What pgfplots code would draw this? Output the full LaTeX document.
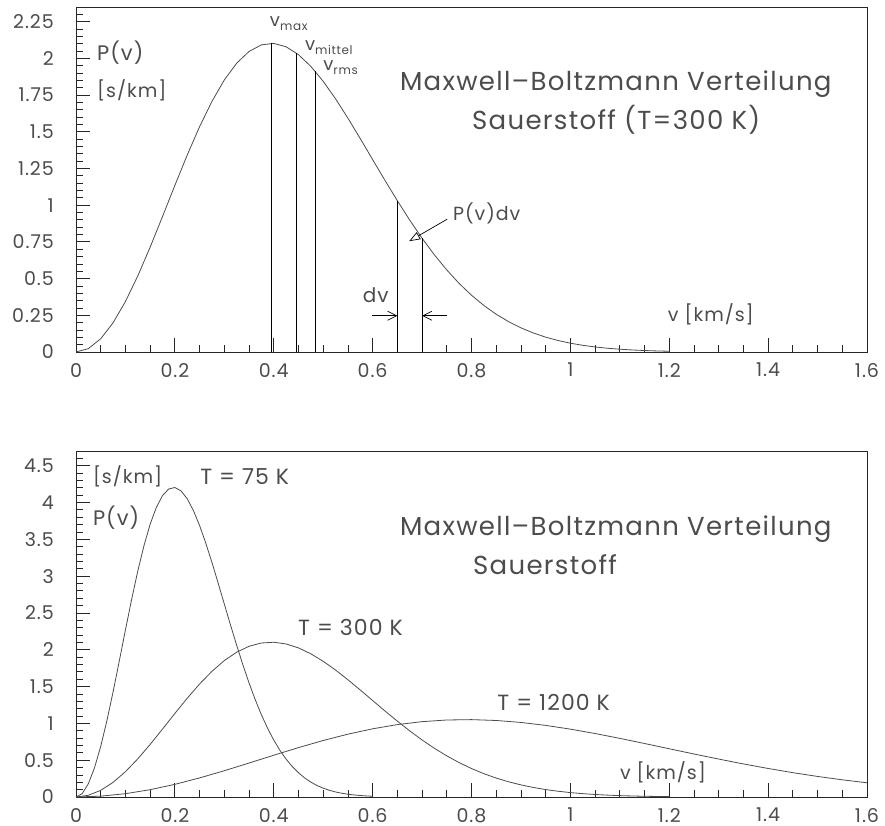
\documentclass[border=0pt]{standalone}
\usepackage{fontspec}
\setmainfont{Poppins}[LetterSpace=5]
\usepackage{pgfplots}
\pgfplotsset{compat=1.18}
\usetikzlibrary{arrows.meta}
\definecolor{txt}{gray}{0.3}
\definecolor{crv}{gray}{0.3}
\newcommand{\fs}[1]{\fontsize{#1}{#1}\selectfont}

\pgfplotsset{mbstyle/.style={
  scale only axis, width=791pt, xmin=0, xmax=1.6,
  tick align=inside, tick pos=left,
  major tick length=14pt, minor tick length=7pt,
  xtick={0,0.2,0.4,0.6,0.8,1,1.2,1.4,1.6},
  xticklabels={0,0.2,0.4,0.6,0.8,1,1.2,1.4,1.6},
  minor xtick={0.05,0.1,...,1.56},
  axis line style={black!85, line width=0.9pt},
  tick style={black!85, line width=0.8pt},
  /pgf/number format/assume math mode=true,
  /pgf/number format/fixed,
  ticklabel style={font=\fs{19}, text=txt},
  xticklabel style={anchor=north, inner sep=0pt, yshift=-11pt},
  yticklabel style={anchor=east, inner sep=0pt, xshift=-22pt},
  every axis plot/.append style={crv, line width=0.8pt},
  clip=false,
}}

\begin{document}
\begin{tikzpicture}
% ---------------- top panel ----------------
\begin{axis}[mbstyle, height=345pt, ymin=0, ymax=2.35,
  at={(76pt,473pt)}, anchor=south west,
  ytick={0,0.25,0.5,0.75,1,1.25,1.5,1.75,2,2.25},
  yticklabels={0,0.25,0.5,0.75,1,1.25,1.5,1.75,2,2.25},
  minor ytick={0.05,0.1,...,2.33}]
\addplot[crv] coordinates {
(0,0) (0.025,0.02283) (0.05,0.09022) (0.075,0.19897) (0.1,0.34393) (0.125,0.51836)
(0.15,0.71419) (0.175,0.92275) (0.2,1.1349) (0.225,1.3418) (0.25,1.5350) (0.275,1.7072)
(0.3,1.8528) (0.325,1.9670) (0.35,2.0471) (0.375,2.0921) (0.4,2.1021) (0.425,2.0789)
(0.45,2.0255) (0.475,1.9455) (0.5,1.8437) (0.525,1.7247) (0.55,1.5929) (0.575,1.4535)
(0.6,1.3108) (0.625,1.1684) (0.65,1.0306) (0.675,0.8984) (0.7,0.7750) (0.725,0.6614)
(0.75,0.5588) (0.775,0.4671) (0.8,0.3867) (0.825,0.3169) (0.85,0.2571) (0.875,0.2066)
(0.9,0.1645) (0.925,0.1296) (0.95,0.1011) (0.975,0.07825) (1.0,0.0599) (1.025,0.04552)
(1.05,0.03427) (1.075,0.02553) (1.1,0.01888) (1.125,0.01381) (1.15,0.01003) (1.175,0.0072)
(1.2,0.00514)};
% characteristic speeds and dv strip
\addplot[black, line width=0.8pt] coordinates {(0.395,0) (0.395,2.103)};
\addplot[black, line width=0.8pt] coordinates {(0.4455,0) (0.4455,2.037)};
\addplot[black, line width=0.8pt] coordinates {(0.4835,0) (0.4835,1.913)};
\addplot[black, line width=0.8pt] coordinates {(0.65,0) (0.65,1.0306)};
\addplot[black, line width=0.8pt] coordinates {(0.70,0) (0.70,0.775)};
\draw[black, line width=0.7pt, -{Straight Barb[length=9pt,width=9pt]}] (axis cs:0.599,0.247) -- (axis cs:0.65,0.247);
\draw[black, line width=0.7pt, -{Straight Barb[length=9pt,width=9pt]}] (axis cs:0.751,0.247) -- (axis cs:0.70,0.247);
\draw[black, line width=0.7pt, -{Triangle[open,length=11pt,width=8pt]}] (axis cs:0.751,0.905) -- (axis cs:0.674,0.755);
\begin{scope}[every node/.style={text=txt, inner sep=0pt}]
\node[anchor=west, font=\fs{21}] at (axis cs:0.0425,2.037) {P(v)};
\node[anchor=west, font=\fs{19}] at (axis cs:0.0425,1.785) {[s/km]};
\node[anchor=west, font=\fs{18}] at (axis cs:0.392,2.24) {v\raisebox{-4pt}{\fs{12}max}};
\node[anchor=west, font=\fs{18}] at (axis cs:0.463,2.07) {v\raisebox{-4pt}{\fs{12}mittel}};
\node[anchor=west, font=\fs{18}] at (axis cs:0.500,1.94) {v\raisebox{-4pt}{\fs{12}rms}};
\node[anchor=west, font=\fs{19}] at (axis cs:0.7625,0.947) {P(v)dv};
\node[anchor=west, font=\fs{20}] at (axis cs:0.580,0.388) {dv};
\node[anchor=west, font=\fs{19}] at (axis cs:1.197,0.26) {v [km/s]};
\node[anchor=west, font=\fs{26}] at (axis cs:0.655,1.826) {Maxwell–Boltzmann Verteilung};
\node[anchor=west, font=\fs{26}] at (axis cs:0.801,1.580) {Sauerstoff (T=300 K)};
\end{scope}
\end{axis}
% ---------------- bottom panel ----------------
\begin{axis}[mbstyle, height=346pt, ymin=0, ymax=4.7,
  at={(76pt,28pt)}, anchor=south west,
  ytick={0,0.5,1,1.5,2,2.5,3,3.5,4,4.5},
  yticklabels={0,0.5,1,1.5,2,2.5,3,3.5,4,4.5},
  minor ytick={0.1,0.2,...,4.65}]
% T = 75 K
\addplot[crv] coordinates {
(0,0) (0.0125,0.0457) (0.025,0.1804) (0.0375,0.3979) (0.05,0.6879) (0.0625,1.0367)
(0.075,1.4284) (0.0875,1.8455) (0.1,2.2698) (0.1125,2.6836) (0.125,3.0700) (0.1375,3.4144)
(0.15,3.7056) (0.1625,3.9340) (0.175,4.0942) (0.1875,4.1842) (0.2,4.2042) (0.2125,4.1578)
(0.225,4.0510) (0.2375,3.8910) (0.25,3.6874) (0.2625,3.4494) (0.275,3.1858) (0.2875,2.9070)
(0.3,2.6216) (0.3125,2.3368) (0.325,2.0612) (0.3375,1.7968) (0.35,1.5500) (0.3625,1.3228)
(0.375,1.1176) (0.3875,0.9342) (0.4,0.7734) (0.4125,0.6338) (0.425,0.5142) (0.4375,0.4132)
(0.45,0.3290) (0.4625,0.2592) (0.475,0.2022) (0.4875,0.1565) (0.5,0.1198) (0.5125,0.0910)
(0.525,0.0685) (0.5375,0.0511) (0.55,0.0378) (0.5625,0.0276) (0.575,0.0201) (0.5875,0.0144)
(0.6,0.0103)};
% T = 300 K
\addplot[crv] coordinates {
(0,0) (0.025,0.02283) (0.05,0.09022) (0.075,0.19897) (0.1,0.34393) (0.125,0.51836)
(0.15,0.71419) (0.175,0.92275) (0.2,1.1349) (0.225,1.3418) (0.25,1.5350) (0.275,1.7072)
(0.3,1.8528) (0.325,1.9670) (0.35,2.0471) (0.375,2.0921) (0.4,2.1021) (0.425,2.0789)
(0.45,2.0255) (0.475,1.9455) (0.5,1.8437) (0.525,1.7247) (0.55,1.5929) (0.575,1.4535)
(0.6,1.3108) (0.625,1.1684) (0.65,1.0306) (0.675,0.8984) (0.7,0.7750) (0.725,0.6614)
(0.75,0.5588) (0.775,0.4671) (0.8,0.3867) (0.825,0.3169) (0.85,0.2571) (0.875,0.2066)
(0.9,0.1645) (0.925,0.1296) (0.95,0.1011) (0.975,0.07825) (1.0,0.0599) (1.025,0.04552)
(1.05,0.03427) (1.075,0.02553) (1.1,0.01888) (1.125,0.01381) (1.15,0.01003) (1.175,0.0072)
(1.2,0.00514)};
% T = 1200 K
\addplot[crv] coordinates {
(0,0) (0.05,0.0114) (0.1,0.0451) (0.15,0.0995) (0.2,0.1720) (0.25,0.2592) (0.3,0.3571)
(0.35,0.4614) (0.4,0.5675) (0.45,0.6709) (0.5,0.7675) (0.55,0.8536) (0.6,0.9264)
(0.65,0.9835) (0.7,1.0236) (0.75,1.0461) (0.8,1.0511) (0.85,1.0395) (0.9,1.0128)
(0.95,0.9728) (1.0,0.9219) (1.05,0.8624) (1.1,0.7965) (1.15,0.7268) (1.2,0.6554)
(1.25,0.5842) (1.3,0.5153) (1.35,0.4492) (1.4,0.3875) (1.45,0.3307) (1.5,0.2794)
(1.55,0.2335) (1.6,0.1934)};
\begin{scope}[every node/.style={text=txt, inner sep=0pt}]
\node[anchor=west, font=\fs{19}] at (axis cs:0.034,4.35) {[s/km]};
\node[anchor=west, font=\fs{21}] at (axis cs:0.034,3.80) {P(v)};
\node[anchor=west, font=\fs{22}] at (axis cs:0.251,4.35) {T = 75 K};
\node[anchor=west, font=\fs{22}] at (axis cs:0.449,2.31) {T = 300 K};
\node[anchor=west, font=\fs{22}] at (axis cs:0.852,1.29) {T = 1200 K};
\node[anchor=west, font=\fs{19}] at (axis cs:1.100,0.34) {v [km/s]};
\node[anchor=west, font=\fs{26}] at (axis cs:0.655,3.64) {Maxwell–Boltzmann Verteilung};
\node[anchor=west, font=\fs{26}] at (axis cs:0.803,3.15) {Sauerstoff};
\end{scope}
\end{axis}
\pgfresetboundingbox
\useasboundingbox (0,0) rectangle (885pt,825pt);
\end{tikzpicture}
\end{document}
